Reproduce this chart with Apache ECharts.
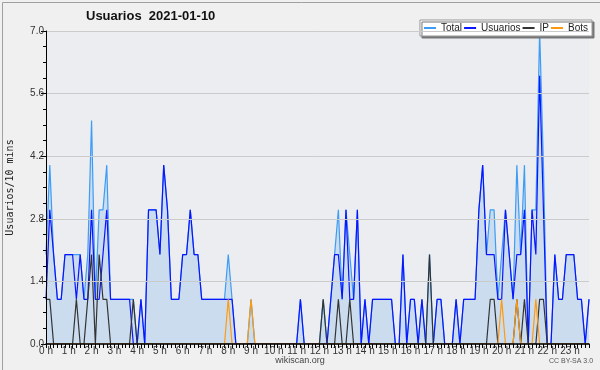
<!DOCTYPE html>
<html>
<head>
<meta charset="utf-8">
<script src="https://cdn.jsdelivr.net/npm/echarts@6/dist/echarts.min.js"></script>
<style>
html,body{margin:0;padding:0;background:#f0f0f0;}
#chart{width:600px;height:370px;}
</style>
</head>
<body>
<div id="chart"></div>
<script>
// Tick labels (one per hour, 6 slots of 10 minutes each)
const hourLabels = ['0 h','1 h','2 h','3 h','4 h','5 h','6 h','7 h','8 h','9 h','10 h','11 h',
  '12 h','13 h','14 h','15 h','16 h','17 h','18 h','19 h','20 h','21 h','22 h','23 h'];
const slots = [];
for (let h = 0; h < 24; h++) for (let m = 0; m < 60; m += 10) slots.push(h + ':' + (m < 10 ? '0' : '') + m);

const total = [
 2,4,2,1,1,2, 2,2,2,2,1,2, 5,1,3,3,4,1, 1,1,1,1,1,1,
 0,1,0,3,3,3, 2,4,3,1,1,1, 2,2,3,2,2,1, 1,1,1,1,1,1,
 2,1,0,0,0,0, 1,0,0,0,0,0, 0,0,0,0,0,0, 0,1,0,0,0,0,
 0,1,0,1,2,3, 1,3,2,1,3,0, 1,0,1,1,1,1, 1,1,0,0,2,0,
 1,1,0,1,0,2, 0,1,1,0,0,0, 1,0,1,1,1,1, 3,4,2,3,3,1,
 2,3,2,1,4,2, 4,0,3,3,7,4, 0,0,2,1,1,2, 2,2,1,1,0,1
];
const usuarios = [
 1,3,2,1,1,2, 2,2,1,2,1,1, 3,1,1,2,3,1, 1,1,1,1,1,0,
 0,1,0,3,3,3, 2,4,3,1,1,1, 2,2,3,2,2,1, 1,1,1,1,1,1,
 1,1,0,0,0,0, 0,0,0,0,0,0, 0,0,0,0,0,0, 0,1,0,0,0,0,
 0,0,0,1,2,2, 1,3,1,1,3,0, 1,0,1,1,1,1, 1,1,0,0,2,0,
 1,1,0,1,0,0, 0,1,1,0,0,0, 1,0,1,1,1,1, 3,4,2,2,2,1,
 1,3,2,1,2,2, 3,0,3,2,6,3, 0,0,2,1,1,2, 2,2,1,1,0,1
];
const ip = [
 1,1,0,0,0,0, 0,0,1,0,0,1, 2,0,2,1,1,0, 0,0,0,0,0,1,
 0,0,0,0,0,0, 0,0,0,0,0,0, 0,0,0,0,0,0, 0,0,0,0,0,0,
 0,0,0,0,0,0, 0,0,0,0,0,0, 0,0,0,0,0,0, 0,0,0,0,0,0,
 0,1,0,0,0,1, 0,0,1,0,0,0, 0,0,0,0,0,0, 0,0,0,0,0,0,
 0,0,0,0,0,2, 0,0,0,0,0,0, 0,0,0,0,0,0, 0,0,0,1,1,0,
 0,0,0,0,1,0, 1,0,0,0,1,1, 0,0,0,0,0,0, 0,0,0,0,0,0
];
const bots = [
 0,0,0,0,0,0, 0,0,0,0,0,0, 0,0,0,0,0,0, 0,0,0,0,0,0,
 0,0,0,0,0,0, 0,0,0,0,0,0, 0,0,0,0,0,0, 0,0,0,0,0,0,
 1,0,0,0,0,0, 1,0,0,0,0,0, 0,0,0,0,0,0, 0,0,0,0,0,0,
 0,0,0,0,0,0, 0,0,0,0,0,0, 0,0,0,0,0,0, 0,0,0,0,0,0,
 0,0,0,0,0,0, 0,0,0,0,0,0, 0,0,0,0,0,0, 0,0,0,0,0,0,
 1,0,0,0,1,0, 0,0,0,1,0,0, 0,0,0,0,0,0, 0,0,0,0,0,0
];

const chart = echarts.init(document.getElementById('chart'), null, {renderer: 'canvas'});
const font = "'Liberation Sans', Arial, sans-serif";
function lineSeries(name, data, color, extra) {
  return Object.assign({
    name: name, type: 'line', data: data, symbol: 'none', showSymbol: false,
    lineStyle: {color: color, width: 1.2}, itemStyle: {color: color},
    animation: false, emphasis: {disabled: true}
  }, extra || {});
}
chart.setOption({
  backgroundColor: '#f0f0f0',
  animation: false,
  title: {
    text: 'Usuarios  2021-01-10', left: 86, top: 10, padding: 0,
    textStyle: {fontFamily: font, fontSize: 13, fontWeight: 'bold', color: '#111'}
  },
  legend: {
    right: 8, top: 20, orient: 'horizontal',
    padding: [3, 4, 3, 4], itemGap: 2, itemWidth: 12, itemHeight: 2, icon: 'rect',
    backgroundColor: '#ffffff', borderColor: '#999', borderWidth: 1,
    shadowColor: '#777', shadowOffsetX: 2, shadowOffsetY: 2, shadowBlur: 0,
    textStyle: {fontFamily: font, fontSize: 10, color: '#222'},
    data: ['Total', 'Usuarios', 'IP', 'Bots']
  },
  grid: {left: 46, right: 11, top: 31, bottom: 26, show: true, backgroundColor: '#ebedf0',
    borderWidth: 0, containLabel: false, outerBoundsMode: 'none'},
  xAxis: {
    type: 'category', data: slots, boundaryGap: false, z: 10,
    axisLine: {lineStyle: {color: '#000', width: 1.5}},
    axisTick: {interval: 0, length: 4, lineStyle: {color: '#000'}},
    axisLabel: {
      interval: 5, margin: 2, fontFamily: font, fontSize: 10, color: '#333',
      formatter: function (v, i) { return hourLabels[Math.floor(i / 6)]; }
    },
    splitLine: {show: false}
  },
  yAxis: {
    type: 'value', min: 0, max: 7, interval: 1.4, z: 10,
    name: 'Usuarios/10 mins', nameLocation: 'middle', nameGap: 31, nameRotate: 90,
    nameTextStyle: {fontFamily: "'DejaVu Sans Mono', monospace", fontSize: 10, color: '#222'},
    axisLine: {show: true, lineStyle: {color: '#000', width: 1}},
    axisTick: {show: true, length: 5, lineStyle: {color: '#000'}},
    minorTick: {show: true, splitNumber: 4, length: 3, lineStyle: {color: '#000'}},
    axisLabel: {fontFamily: font, fontSize: 10, color: '#333', margin: 2,
      formatter: function (v) { return v.toFixed(1); }},
    splitLine: {show: true, lineStyle: {color: '#cbcbcb', width: 1}}
  },
  series: [
    lineSeries('Total', total, '#3d9cf5', {areaStyle: {color: 'rgba(70,150,235,0.27)'}}),
    lineSeries('Usuarios', usuarios, '#0a14ff'),
    lineSeries('IP', ip, '#333333'),
    lineSeries('Bots', bots, '#ff9a10')
  ],
  graphic: [
    {type: 'rect', left: 0, top: 0, shape: {x: 0.5, y: 0.5, width: 599, height: 369},
     style: {fill: 'none', stroke: '#a0a0a0', lineWidth: 1}, silent: true, z: 100},
    {type: 'text', left: 'center', top: 356, style: {text: 'wikiscan.org', fontFamily: font, fontSize: 9, fill: '#444'}},
    {type: 'text', left: 549, top: 358, style: {text: 'CC BY-SA 3.0', fontFamily: font, fontSize: 7, fill: '#555'}}
  ]
});
</script>
</body>
</html>
